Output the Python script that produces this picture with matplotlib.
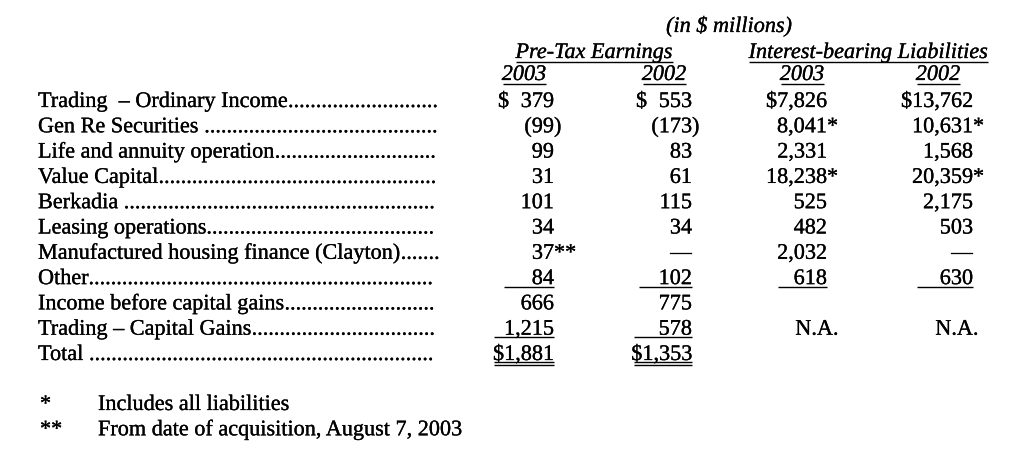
import matplotlib
matplotlib.use("Agg")
import matplotlib.pyplot as plt
import matplotlib.patheffects as pe

# Table values as printed (in $ millions)
labels = [
    "Trading  \u2013 Ordinary Income",
    "Gen Re Securities ",
    "Life and annuity operation",
    "Value Capital",
    "Berkadia ",
    "Leasing operations",
    "Manufactured housing finance (Clayton)",
    "Other",
    "Income before capital gains",
    "Trading \u2013 Capital Gains",
    "Total ",
]
pretax_2003 = ["$ 379", "(99)", "99", "31", "101", "34", "37**", "84", "666", "1,215", "$1,881"]
pretax_2002 = ["$ 553", "(173)", "83", "61", "115", "34", "\u2014", "102", "775", "578", "$1,353"]
liab_2003 = ["$7,826", "8,041*", "2,331", "18,238*", "525", "482", "2,032", "618", "", "N.A.", ""]
liab_2002 = ["$13,762", "10,631*", "1,568", "20,359*", "2,175", "503", "\u2014", "630", "", "N.A.", ""]

group_titles = ["Pre-Tax Earnings", "Interest-bearing Liabilities"]
years = ["2003", "2002", "2003", "2002"]
units = "(in $ millions)"
footnotes = [("*", "Includes all liabilities"),
             ("**", "From date of acquisition, August 7, 2003")]

FONT = "Liberation Serif"
FS = 16
# thin stroke so the glyphs look a touch heavier, like the scanned page
INK = [pe.withStroke(linewidth=0.2, foreground="black")]

fig = plt.figure(figsize=(10.24, 4.53), dpi=100)
ax = fig.add_axes([0, 0, 1, 1])
ax.set_xlim(0, 1024)
ax.set_ylim(453, 0)
ax.axis("off")


def txt(x, y, s, ha="left", style="normal"):
    return ax.text(x, y, s, ha=ha, va="baseline", fontsize=FS, family=FONT,
                   style=style, color="black", path_effects=INK)


def uline(x0, x1, y):
    ax.plot([x0, x1], [y, y], color="black", lw=1.0, solid_capstyle="butt")


# header
txt(729, 32, units, ha="center", style="italic")
txt(594, 58, group_titles[0], ha="center", style="italic")
txt(868, 58, group_titles[1], ha="center", style="italic")
uline(516, 673, 61.5)
uline(749, 988, 61.5)
year_x = [524, 664, 802, 938]
for x, yr in zip(year_x, years):
    txt(x, 80, yr, ha="center", style="italic")
    uline(x - 21.5, x + 21.5, 83.5)

# rows
y0, dy = 107, 25.3
row_y = [y0 + i * dy for i in range(len(labels))]

fig.canvas.draw()
renderer = fig.canvas.get_renderer()
probe = txt(0, -100, "." * 100)
dot_w = probe.get_window_extent(renderer).width / 100
probe.remove()

# dot leaders from the end of each label up to the number columns
dots_end = 439
for y, lab in zip(row_y, labels):
    t = txt(38, y, lab)
    x1 = t.get_window_extent(renderer).x1
    n = int(round((dots_end - x1) / dot_w))
    if n > 0:
        txt(x1, y, "." * n)

col_right = [554, 692, 827, 973]
na_center = [None, None, 817, 957]
columns = [pretax_2003, pretax_2002, liab_2003, liab_2002]
for ci, col in enumerate(columns):
    xr = col_right[ci]
    for y, v in zip(row_y, col):
        if not v:
            continue
        if v == "N.A.":
            txt(na_center[ci], y, v, ha="center")
            continue
        if v.startswith("$ "):
            txt(xr - 56, y, "$")
            v = v[2:]
        main = v.rstrip(")*")
        tail = v[len(main):]
        txt(xr, y, main, ha="right")
        if tail:
            txt(xr, y, tail, ha="left")

# rule lines under "Other", capital gains and totals
rule_left = [504, 639, 778, 917]
for ci in range(4):
    uline(rule_left[ci], col_right[ci], row_y[7] + 3)
for x0, x1 in [(494, 554), (634, 692)]:
    uline(x0, x1, row_y[9] + 2)
    uline(x0, x1, row_y[10] + 2)
    uline(x0, x1, row_y[10] + 5)

# footnotes
for i, (mark, note) in enumerate(footnotes):
    y = 410 + i * 25.3
    txt(40, y, mark)
    txt(98, y, note)

fig.savefig("out.png", dpi=100)
